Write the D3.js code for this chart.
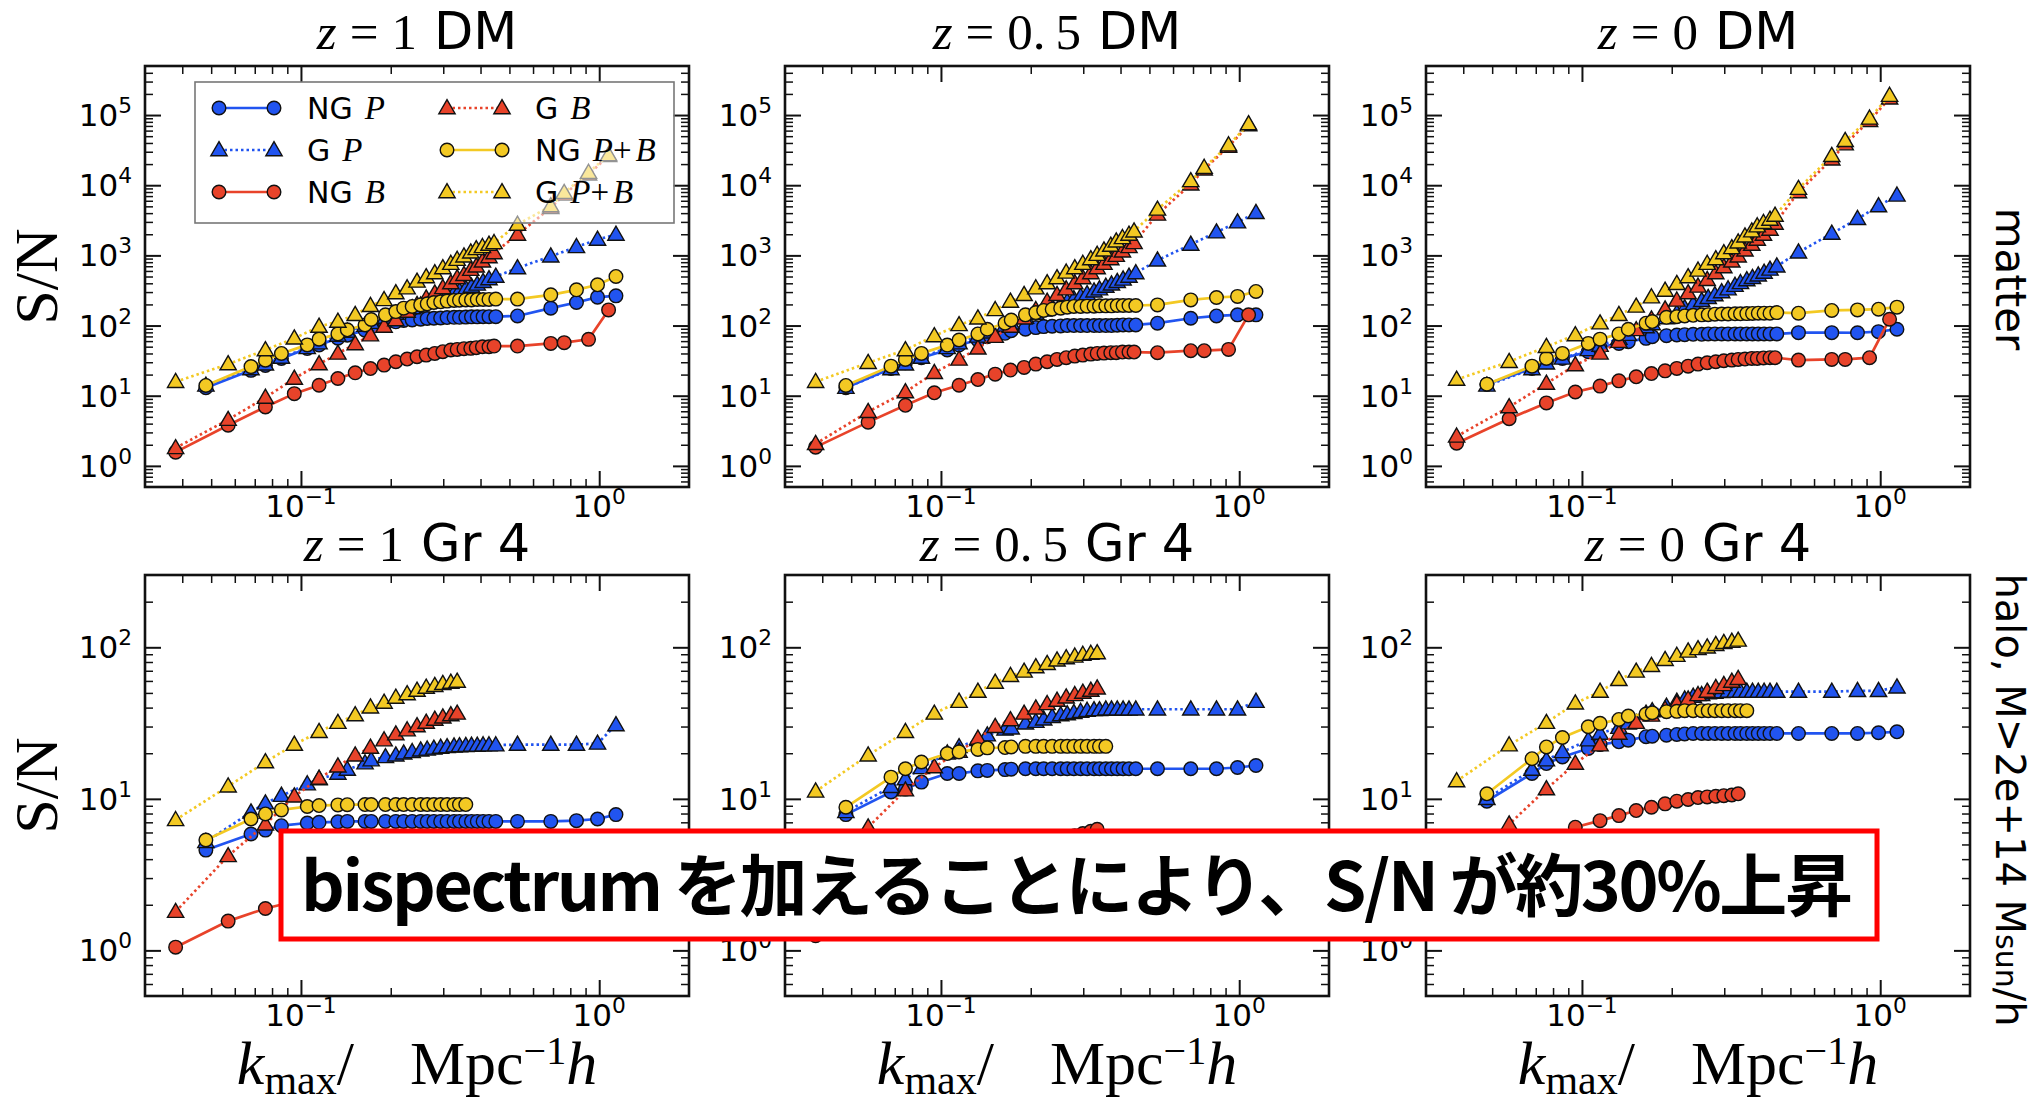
<!DOCTYPE html>
<html>
<head>
<meta charset="utf-8">
<script src="https://cdn.jsdelivr.net/npm/d3@7"></script>
<style>
  body { margin: 0; background: #fff; }
</style>
</head>
<body>
<svg id="chart" width="2035" height="1104"></svg>
<script>
// k_max grids (h/Mpc)
var kP = [0.048, 0.068, 0.076, 0.086, 0.105, 0.115, 0.133, 0.143, 0.164, 0.172, 0.192, 0.208, 0.221, 0.236, 0.252, 0.265, 0.279, 0.294, 0.309, 0.326, 0.340, 0.357, 0.373, 0.390, 0.408, 0.427, 0.450, 0.532, 0.688, 0.839, 0.987, 1.138];
var kB = [0.038, 0.057, 0.076, 0.095, 0.115, 0.133, 0.152, 0.171, 0.190, 0.208, 0.227, 0.245, 0.263, 0.281, 0.299, 0.318, 0.334, 0.352, 0.371, 0.387, 0.406, 0.427, 0.444, 0.532, 0.688, 0.763, 0.921, 1.075];

// z=1 DM
var ngP_dm1 = [13, 23, 27, 34, 47, 53, 66, 73, 86, 95, 106, 113, 118, 120, 123, 126, 127, 128, 130, 131, 131, 132, 133, 133, 134, 134, 134, 137, 177, 213, 254, 265];
var gP_dm1 = [14, 24, 28, 35, 48, 56, 72, 82, 100, 110, 130, 148, 160, 178, 195, 212, 230, 250, 270, 290, 310, 335, 360, 385, 420, 460, 500, 660, 970, 1320, 1680, 1980];
var ngB_dm1 = [1.57, 3.8, 6.9, 10.7, 14.1, 17.6, 21.2, 24.4, 27.3, 30.5, 33.3, 35.9, 37.9, 40.1, 42.4, 44.8, 45.7, 46.8, 47.3, 48.3, 49.9, 49.9, 51, 51, 55.7, 57, 63.6, 167];
var gB_dm1 = [1.8, 4.55, 9.4, 17.6, 28.2, 40, 54.5, 73, 97, 120, 158, 197, 245, 289, 344, 403, 475, 530, 625, 698, 822, 948, 1082, 1980, 4760, 7400, 14300, 26200];
var ngPB_dm1 = [14, 26, 32, 40, 53, 64, 76, 87, 102, 122, 142, 158, 177, 187, 197, 204, 213, 218, 223, 228, 230, 232, 232, 235, 235, 236, 238, 238, 274, 323, 381, 501];
var gPB_dm1 = [15.8, 28.2, 44.8, 65.7, 96.6, 114, 142, 191, 232, 290, 341, 425, 491, 560, 661, 762, 869, 970, 1106, 1235, 1320, 1425, 1506, 2755, 5040, 7820, 15100, 27000];

// z=0.5 DM
var ngP_dm05 = [13, 24.5, 29.5, 34.8, 44.8, 52.7, 62.2, 69.5, 77.5, 84.6, 88.5, 93.5, 96.6, 97.7, 98.8, 100, 100, 100, 100, 100, 100, 100, 100, 101, 102, 102, 102, 108, 127, 137, 142, 142];
var gP_dm05 = [13, 24, 28, 35, 48, 56, 70, 80, 100, 108, 130, 148, 165, 182, 200, 218, 238, 258, 282, 308, 330, 360, 388, 420, 455, 500, 560, 850, 1430, 2140, 2970, 4040];
var ngB_dm05 = [1.85, 4.2, 7.3, 11, 14.1, 17, 20.3, 23.2, 25.3, 28.2, 30.5, 32.9, 34.8, 36.7, 37.9, 39.2, 40.1, 40.5, 41, 41, 41.9, 41.9, 41.9, 41, 43.8, 43.8, 45.7, 142];
var gB_dm05 = [2.06, 5.9, 11.3, 21.2, 32.9, 47.3, 69.5, 96.6, 127, 167, 220, 274, 330, 403, 475, 560, 661, 762, 888, 991, 1143, 1319, 1506, 3830, 10300, 16900, 35600, 71900];
var ngPB_dm05 = [14, 26.4, 32.9, 40.1, 52.7, 62.2, 75.9, 88.5, 108, 120, 142, 153, 164, 171, 177, 183, 187, 187, 189, 189, 191, 191, 191, 193, 193, 193, 193, 197, 232, 251, 260, 306];
var gPB_dm05 = [15.8, 29.5, 44.8, 71, 102, 127, 167, 220, 274, 341, 403, 475, 572, 661, 762, 888, 1024, 1181, 1378, 1589, 1774, 1981, 2209, 4514, 11500, 17800, 37200, 74300];

// z=0 DM
var ngP_dm0 = [14.6, 24.5, 30.5, 34, 42.4, 48.9, 55.7, 58.9, 65.7, 69.5, 71.8, 73.3, 74.1, 75, 75, 75.9, 75.9, 76, 76, 76, 76, 76, 76, 76, 76, 76, 76, 79.2, 79.2, 79, 81.9, 88.5];
var gP_dm0 = [14, 24, 29, 34, 45, 52, 65, 74, 95, 105, 128, 150, 178, 200, 225, 248, 272, 300, 330, 370, 405, 445, 480, 520, 570, 630, 700, 1106, 2047, 3320, 5040, 7160];
var ngB_dm0 = [2.1, 4.7, 7.9, 11.3, 13.7, 16.3, 18.6, 20.7, 22.6, 24.5, 26.4, 28.2, 29.5, 30.5, 31.5, 32.2, 32.9, 33.3, 34, 34, 34.5, 34.8, 34.8, 32.2, 32.9, 32.9, 34.8, 123];
var gB_dm0 = [2.63, 6.9, 14.9, 27.3, 40.1, 58.9, 86.5, 123, 171, 228, 290, 361, 449, 560, 682, 822, 970, 1181, 1425, 1680, 1981, 2334, 2845, 8000, 23400, 38500, 83000, 173000];
var ngPB_dm0 = [14.6, 26.4, 34, 40.1, 55.7, 64, 75.9, 88.5, 108, 114, 131, 134, 137, 140, 142, 143, 145, 146, 146, 147, 147, 148, 149, 150, 150, 150, 153, 150, 164, 167, 171, 183];
var gPB_dm0 = [17, 30.5, 49.9, 73.3, 108, 142, 187, 254, 316, 394, 491, 611, 762, 888, 1082, 1276, 1538, 1875, 2211, 2607, 2911, 3246, 3703, 8920, 26200, 42900, 89600, 189000];

// z=1 Gr 4
var ngP_gr1 = [4.59, 5.86, 6.22, 6.65, 6.93, 7.0, 7.05, 7.1, 7.1, 7.1, 7.1, 7.1, 7.1, 7.1, 7.1, 7.1, 7.1, 7.1, 7.1, 7.1, 7.1, 7.1, 7.1, 7.1, 7.1, 7.1, 7.1, 7.1, 7.1, 7.18, 7.36, 7.87];
var gP_gr1 = [5.2, 8.16, 9.36, 10.5, 12.5, 13.5, 14.7, 15.6, 17.2, 18, 18.9, 19.4, 20, 20.4, 20.9, 21.2, 21.5, 21.8, 22, 22.2, 22.3, 22.4, 22.5, 22.5, 22.6, 22.6, 22.6, 22.8, 22.8, 22.8, 23.2, 30.7];
var ngB_gr1 = [1.05, 1.56, 1.89, 2.1, 2.3, 2.45, 2.6, 2.7, 2.8, 2.9, 3.0, 3.05, 3.1, 3.15, 3.2, 3.25, 3.3];
var gB_gr1 = [1.8, 4.2, 6.8, 10.4, 13.6, 16.4, 19.4, 21.8, 24.4, 26.7, 28.4, 30.2, 31.9, 33.4, 34.5, 35.7, 36.6];
var ngPB_gr1 = [5.35, 7.36, 7.95, 8.45, 8.9, 9.03, 9.12, 9.15, 9.17, 9.17, 9.17, 9.17, 9.17, 9.17, 9.17, 9.17, 9.17, 9.17, 9.17, 9.17, 9.17, 9.17];
var gPB_gr1 = [7.26, 12.1, 17.5, 22.8, 27.7, 31.8, 35.7, 40.2, 43.2, 46.6, 49.2, 51.8, 54.3, 55.7, 57.4, 58.6, 59.5];

// z=0.5 Gr 4
var ngP_gr05 = [7.87, 11.1, 11.6, 12.9, 14.7, 14.7, 15.3, 15.4, 15.6, 15.7, 15.8, 15.8, 15.8, 15.8, 15.8, 15.8, 15.8, 15.8, 15.8, 15.8, 15.8, 15.8, 15.8, 15.8, 15.8, 15.8, 15.8, 15.8, 15.8, 15.8, 16.1, 16.6];
var gP_gr05 = [8.2, 12, 13.5, 16, 20, 22, 24.5, 26.3, 28.7, 29.2, 31.5, 32.3, 33.5, 34.8, 35.7, 36.3, 37, 37.6, 38.2, 38.6, 38.6, 39, 39, 39, 39, 39, 39, 39, 39, 39, 39, 43.8];
var ngB_gr05 = [1.25, 1.8, 2.3, 2.8, 3.2, 3.6, 3.9, 4.2, 4.5, 4.8, 5.0, 5.3, 5.5, 5.7, 5.9, 6.1, 6.3];
var gB_gr05 = [2.8, 6.5, 11.4, 16.2, 20.5, 25, 29.9, 33.1, 36.6, 39.6, 42.3, 44.5, 46.8, 48.5, 50.3, 51.8, 53.7];
var ngPB_gr05 = [8.8, 13.9, 15.8, 17.5, 19.9, 20.4, 21.2, 21.7, 21.8, 22, 22.2, 22.2, 22.2, 22.2, 22.2, 22.2, 22.2, 22.2, 22.2, 22.2, 22.2, 22.2];
var gPB_gr05 = [11.2, 19.4, 27.7, 36.6, 43.8, 51, 58.6, 64.9, 69.3, 74, 77.9, 82, 85, 87.1, 89.4, 90.8, 91.7];

// z=0 Gr 4
var ngP_gr0 = [9.65, 14.7, 17.1, 18.9, 21.5, 22.8, 23.8, 24.4, 25.7, 25.9, 26.3, 26.6, 26.8, 27, 27, 27, 27, 27, 27, 27, 27, 27, 27, 27, 27, 27, 27, 27, 27, 27, 27.3, 27.7];
var gP_gr0 = [10, 15.6, 18, 20.4, 24.4, 27, 29.5, 31.5, 36.6, 38, 40.6, 43.8, 45.4, 47.3, 48.5, 49.8, 50.3, 50.8, 51, 51, 51, 51, 51, 51, 51, 51, 51, 51, 51, 51.6, 51.6, 54.5];
var ngB_gr0 = [2.2, 3.6, 5.0, 6.5, 7.18, 7.75, 8.37, 8.8, 9.27, 9.65, 9.9, 10.2, 10.3, 10.4, 10.5, 10.6, 10.8];
var gB_gr0 = [2.5, 6.8, 11.6, 17.1, 22.6, 27, 31.8, 35.5, 39, 42.5, 45.4, 48.5, 51, 54, 56.5, 59.5, 62];
var ngPB_gr0 = [10.8, 18.4, 22, 25.4, 29.9, 31.5, 33.4, 35.2, 36.3, 37, 37.6, 37.8, 38.2, 38.2, 38.2, 38.2, 38.2, 38.2, 38.2, 38.2, 38.2, 38.2];
var gPB_gr0 = [13.1, 22.6, 31.8, 42.7, 51, 61, 69.3, 75.5, 82.8, 88.1, 94, 97.5, 100, 104, 107, 109, 111];

var xTicks = [0.1, 1];
var xTickExp = ['\u22121', '0'];
var yTicksTop = [1, 10, 100, 1000, 10000, 100000];
var yTicksBottom = [1, 10, 100];

var BLUE = '#2154f0', RED = '#e8432a', YELLOW = '#f3c923';
var serif = '"Liberation Serif", "DejaVu Serif", serif';
var sans = '"DejaVu Sans", sans-serif';

// plotting order = legend order
var seriesDefs = [
    { key: 'ngP', grid: kP, color: BLUE, marker: 'circle', dotted: false, label: ['NG', 'P'] },
    { key: 'gP', grid: kP, color: BLUE, marker: 'triangle', dotted: true, label: ['G', 'P'] },
    { key: 'ngB', grid: kB, color: RED, marker: 'circle', dotted: false, label: ['NG', 'B'] },
    { key: 'gB', grid: kB, color: RED, marker: 'triangle', dotted: true, label: ['G', 'B'] },
    { key: 'ngPB', grid: kP, color: YELLOW, marker: 'circle', dotted: false, label: ['NG', 'P+B'] },
    { key: 'gPB', grid: kB, color: YELLOW, marker: 'triangle', dotted: true, label: ['G', 'P+B'] }
];

var panels = [
    { row: 0, col: 0, z: ['1'], tag: 'DM', ngP: ngP_dm1, gP: gP_dm1, ngB: ngB_dm1, gB: gB_dm1, ngPB: ngPB_dm1, gPB: gPB_dm1 },
    { row: 0, col: 1, z: ['0.', '5'], tag: 'DM', ngP: ngP_dm05, gP: gP_dm05, ngB: ngB_dm05, gB: gB_dm05, ngPB: ngPB_dm05, gPB: gPB_dm05 },
    { row: 0, col: 2, z: ['0'], tag: 'DM', ngP: ngP_dm0, gP: gP_dm0, ngB: ngB_dm0, gB: gB_dm0, ngPB: ngPB_dm0, gPB: gPB_dm0 },
    { row: 1, col: 0, z: ['1'], tag: 'Gr 4', ngP: ngP_gr1, gP: gP_gr1, ngB: ngB_gr1, gB: gB_gr1, ngPB: ngPB_gr1, gPB: gPB_gr1 },
    { row: 1, col: 1, z: ['0.', '5'], tag: 'Gr 4', ngP: ngP_gr05, gP: gP_gr05, ngB: ngB_gr05, gB: gB_gr05, ngPB: ngPB_gr05, gPB: gPB_gr05 },
    { row: 1, col: 2, z: ['0'], tag: 'Gr 4', ngP: ngP_gr0, gP: gP_gr0, ngB: ngB_gr0, gB: gB_gr0, ngPB: ngPB_gr0, gPB: gPB_gr0 }
];

var W = 544, H = 421;
var colX = [145, 785, 1426], rowY = [66, 575];

var svg = d3.select('#chart');

var x = d3.scaleLog().domain([0.03, 2]).range([0, W]);

function minorTicks(lo, hi) {
    var out = [];
    for (var e = Math.floor(Math.log10(lo)); e <= Math.ceil(Math.log10(hi)); e++) {
        for (var m = 2; m <= 9; m++) {
            var v = m * Math.pow(10, e);
            if (v > lo * 1.0001 && v < hi * 0.9999) out.push(v);
        }
    }
    return out;
}

var triangle = d3.symbol().type(d3.symbolTriangle).size(115);

function drawMarker(sel, s, px, py) {
    if (s.marker === 'circle') {
        sel.append('circle')
            .attr('cx', px).attr('cy', py).attr('r', 6.8)
            .attr('fill', s.color).attr('stroke', '#111').attr('stroke-width', 1.4);
    } else {
        sel.append('path')
            .attr('d', triangle())
            .attr('transform', 'translate(' + px + ',' + (py + 1) + ')')
            .attr('fill', s.color).attr('stroke', '#111').attr('stroke-width', 1.4);
    }
}

function powLabel(t, exp, fs) {
    t.append('tspan').text('10');
    t.append('tspan').attr('font-size', fs * 0.7).attr('dy', -fs * 0.42).text(exp);
}

panels.forEach(function (p) {
    var g = svg.append('g')
        .attr('transform', 'translate(' + colX[p.col] + ',' + rowY[p.row] + ')');
    var dom = p.row === 0 ? [0.5, 5e5] : [0.5, 300];
    var y = d3.scaleLog().domain(dom).range([H, 0]);
    var yMajor = p.row === 0 ? yTicksTop : yTicksBottom;

    // series: line then markers, in legend order
    seriesDefs.forEach(function (s) {
        var vals = p[s.key];
        var pts = vals.map(function (v, i) { return [s.grid[i], v]; });
        var line = d3.line()
            .x(function (d) { return x(d[0]); })
            .y(function (d) { return y(d[1]); });
        g.append('path')
            .datum(pts)
            .attr('d', line)
            .attr('fill', 'none')
            .attr('stroke', s.color)
            .attr('stroke-width', 2.7)
            .attr('stroke-dasharray', s.dotted ? '2.5,3' : null);
        var mg = g.append('g');
        pts.forEach(function (d) { drawMarker(mg, s, x(d[0]), y(d[1])); });
    });

    // ticks on all four sides, pointing inward
    var xMin = minorTicks(0.03, 2);
    var yMin = minorTicks(dom[0], dom[1]);
    var axes = [
        { ax: d3.axisBottom(x), t: 'translate(0,' + H + ')', maj: xTicks, min: xMin },
        { ax: d3.axisTop(x), t: 'translate(0,0)', maj: xTicks, min: xMin },
        { ax: d3.axisLeft(y), t: 'translate(0,0)', maj: yMajor, min: yMin },
        { ax: d3.axisRight(y), t: 'translate(' + W + ',0)', maj: yMajor, min: yMin }
    ];
    axes.forEach(function (a) {
        [[a.maj, 16, 2], [a.min, 8, 1.5]].forEach(function (spec) {
            var ag = g.append('g')
                .attr('transform', a.t)
                .call(a.ax.tickValues(spec[0]).tickSize(-spec[1]).tickFormat(''));
            ag.select('.domain').remove();
            ag.selectAll('line').attr('stroke', '#111').attr('stroke-width', spec[2]);
        });
    });

    // frame
    g.append('rect')
        .attr('width', W).attr('height', H)
        .attr('fill', 'none').attr('stroke', '#111').attr('stroke-width', 2.6);

    // tick labels
    yMajor.forEach(function (v) {
        var t = g.append('text')
            .attr('x', -13).attr('y', y(v) + 11)
            .attr('text-anchor', 'end')
            .attr('font-family', sans).attr('font-size', 31);
        powLabel(t, String(Math.round(Math.log10(v))), 31);
    });
    xTicks.forEach(function (v, i) {
        var t = g.append('text')
            .attr('x', x(v)).attr('y', H + 30)
            .attr('text-anchor', 'middle')
            .attr('font-family', sans).attr('font-size', 31);
        powLabel(t, xTickExp[i], 31);
    });

    // title
    var tt = g.append('text')
        .attr('x', W / 2).attr('y', p.row === 0 ? -17 : -14)
        .attr('text-anchor', 'middle')
        .attr('font-size', 51);
    tt.append('tspan').attr('font-family', serif).attr('font-style', 'italic').text('z');
    tt.append('tspan').attr('font-family', serif).attr('dx', 13).text('=');
    tt.append('tspan').attr('font-family', serif).attr('dx', 13).text(p.z[0]);
    if (p.z.length > 1) tt.append('tspan').attr('font-family', serif).attr('dx', 10).text(p.z[1]);
    tt.append('tspan').attr('font-family', sans).attr('dx', 17).text(p.tag);

    // y label on left column
    if (p.col === 0) {
        g.append('text')
            .attr('transform', 'translate(-88,' + (H / 2) + ') rotate(-90)')
            .attr('text-anchor', 'middle')
            .attr('font-family', serif).attr('font-size', 62)
            .text('S/N');
    }

    // x label on bottom row
    if (p.row === 1) {
        var xl = g.append('text')
            .attr('x', W / 2).attr('y', H + 88)
            .attr('text-anchor', 'middle')
            .attr('font-family', serif).attr('font-size', 62);
        xl.append('tspan').attr('font-style', 'italic').text('k');
        xl.append('tspan').attr('font-size', 42).attr('dy', 10).text('max');
        xl.append('tspan').attr('dy', -10).text('/');
        xl.append('tspan').attr('dx', 56).text('Mpc');
        xl.append('tspan').attr('font-size', 40).attr('dy', -20).text('\u22121');
        xl.append('tspan').attr('font-style', 'italic').attr('dy', 20).text('h');
    }
});

// legend (first panel), drawn above the data with a translucent face
var lg = svg.append('g');
lg.append('rect')
    .attr('x', 195).attr('y', 82).attr('width', 479).attr('height', 141)
    .attr('fill', '#fff').attr('fill-opacity', 0.55)
    .attr('stroke', '#777').attr('stroke-width', 1.6);
var legCols = [219, 447];
var legRows = [108, 150, 192];
seriesDefs.forEach(function (s, i) {
    var c = Math.floor(i / 3), r = i % 3;
    var x0 = legCols[c], x1 = x0 + 55, yy = legRows[r];
    lg.append('line')
        .attr('x1', x0).attr('x2', x1).attr('y1', yy).attr('y2', yy)
        .attr('stroke', s.color).attr('stroke-width', 2.7)
        .attr('stroke-dasharray', s.dotted ? '2.5,3' : null);
    drawMarker(lg, s, x0, yy);
    drawMarker(lg, s, x1, yy);
    var t = lg.append('text')
        .attr('x', x0 + 88).attr('y', yy + 11)
        .attr('font-family', sans).attr('font-size', 30);
    t.append('tspan').text(s.label[0]);
    var parts = s.label[1].split('+');
    t.append('tspan').attr('dx', 12).attr('font-family', serif).attr('font-style', 'italic').attr('font-size', 33).text(parts[0]);
    if (parts.length > 1) {
        t.append('tspan').attr('font-family', serif).attr('font-size', 33).text('+');
        t.append('tspan').attr('dx', 4).attr('font-family', serif).attr('font-style', 'italic').attr('font-size', 33).text(parts[1]);
    }
});

// row labels on the right
svg.append('text')
    .attr('transform', 'translate(1996,279) rotate(90)')
    .attr('text-anchor', 'middle')
    .attr('font-family', sans).attr('font-size', 42)
    .text('matter');
var hl = svg.append('text')
    .attr('transform', 'translate(1996,800) rotate(90)')
    .attr('text-anchor', 'middle')
    .attr('font-family', sans).attr('font-size', 40);
hl.append('tspan').text('halo, M>2e+14 M');
hl.append('tspan').attr('font-size', 30).text('sun');
hl.append('tspan').text('/h');

// annotation box
svg.append('rect')
    .attr('x', 281).attr('y', 831).attr('width', 1596).attr('height', 108)
    .attr('fill', '#fff').attr('stroke', '#ff0000').attr('stroke-width', 5);
svg.append('text')
    .attr('x', 1077).attr('y', 911)
    .attr('text-anchor', 'middle')
    .attr('font-family', '"Noto Sans CJK JP", sans-serif')
    .attr('font-weight', 700).attr('font-size', 68)
    .attr('textLength', 1552).attr('lengthAdjust', 'spacing')
    .text('bispectrum を加えることにより、S/N が約30%上昇');
</script>
</body>
</html>
